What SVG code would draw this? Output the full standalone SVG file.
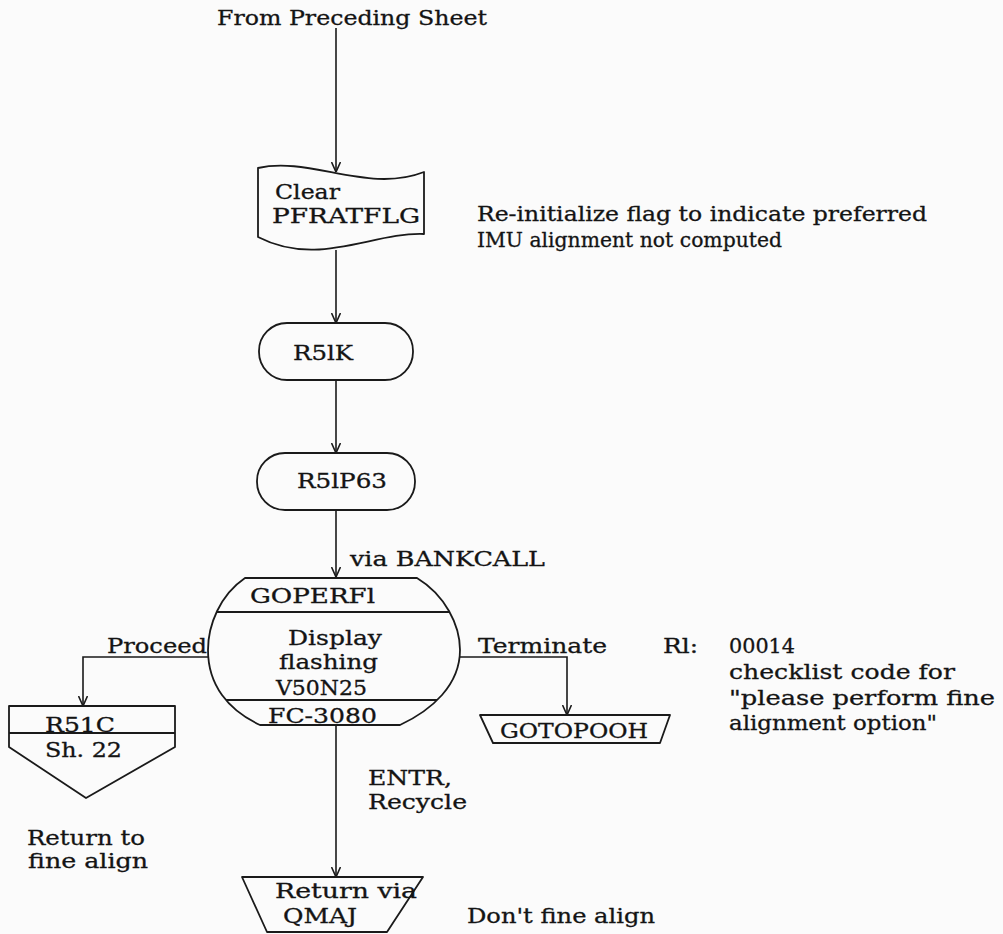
<svg xmlns="http://www.w3.org/2000/svg" width="1003" height="934" viewBox="0 0 1003 934">
  <style>
    .shape { fill: none; stroke: #1a1a1a; stroke-width: 1.8; stroke-linejoin: round; }
    .line { fill: none; stroke: #1a1a1a; stroke-width: 1.6; }
    text { font-family: "DejaVu Serif", "Liberation Serif", serif; font-size: 20px; fill: #141414; stroke: #141414; stroke-width: 0.3; }
  </style>
  <defs>
    <marker id="arrow" viewBox="0 0 10 10" refX="10" refY="5" markerWidth="10" markerHeight="10" markerUnits="userSpaceOnUse" orient="auto">
      <path d="M0,0.5 L10,5 L0,9.5" fill="none" stroke="#1a1a1a" stroke-width="1.6"/>
    </marker>
    <clipPath id="goperf-clip">
      <path d="M245,578 L417,578 C445,595 460,625 460,650 C460,685 432,710 400,725 L260,725 C228,710 208,685 208,650 C208,625 220,595 245,578 Z"/>
    </clipPath>
  </defs>
  <rect width="1003" height="934" fill="#fbfbfb"/>

  <!-- connectors -->
  <g id="connectors">
    <path class="line" d="M336,28 L336,172" marker-end="url(#arrow)"/>
    <path class="line" d="M336,250 L336,323" marker-end="url(#arrow)"/>
    <path class="line" d="M336,380 L336,453" marker-end="url(#arrow)"/>
    <path class="line" d="M336,510 L336,577" marker-end="url(#arrow)"/>
    <path class="line" d="M208,657 L83,657 L83,706" marker-end="url(#arrow)"/>
    <path class="line" d="M460,657 L567,657 L567,715" marker-end="url(#arrow)"/>
    <path class="line" d="M336,725 L336,877" marker-end="url(#arrow)"/>
    <text x="350" y="566" textLength="195" lengthAdjust="spacingAndGlyphs">via BANKCALL</text>
    <text x="107" y="653" textLength="100" lengthAdjust="spacingAndGlyphs">Proceed</text>
    <text x="478" y="653" textLength="129" lengthAdjust="spacingAndGlyphs">Terminate</text>
    <text x="368" y="785" textLength="84" lengthAdjust="spacingAndGlyphs">ENTR,</text>
    <text x="368" y="809" textLength="99" lengthAdjust="spacingAndGlyphs">Recycle</text>
  </g>

  <!-- entry label -->
  <g id="entry">
    <text x="217" y="25" textLength="270" lengthAdjust="spacingAndGlyphs">From Preceding Sheet</text>
  </g>

  <!-- punched-tape box -->
  <g id="clear-pfratflg">
    <path class="shape" d="M258,168 C310,156 368,194 424,172 L424,234 C372,232 318,268 258,237 Z"/>
    <text x="275" y="199" textLength="65" lengthAdjust="spacingAndGlyphs">Clear</text>
    <text x="272" y="223" textLength="148" lengthAdjust="spacingAndGlyphs">PFRATFLG</text>
  </g>
  <g id="note-reinit">
    <text x="477" y="221" textLength="450" lengthAdjust="spacingAndGlyphs">Re-initialize flag to indicate preferred</text>
    <text x="477" y="247" textLength="305" lengthAdjust="spacingAndGlyphs">IMU alignment not computed</text>
  </g>

  <!-- terminals -->
  <g id="r51k">
    <rect class="shape" x="259" y="323" width="154" height="57" rx="28" ry="28"/>
    <text x="293" y="360" textLength="60" lengthAdjust="spacingAndGlyphs">R5lK</text>
  </g>
  <g id="r51p63">
    <rect class="shape" x="257" y="453" width="158" height="57" rx="28" ry="28"/>
    <text x="297" y="488" textLength="90" lengthAdjust="spacingAndGlyphs">R5lP63</text>
  </g>

  <!-- display routine -->
  <g id="goperf1">
    <path class="shape" d="M245,578 L417,578 C445,595 460,625 460,650 C460,685 432,710 400,725 L260,725 C228,710 208,685 208,650 C208,625 220,595 245,578 Z"/>
    <g clip-path="url(#goperf-clip)">
      <line class="shape" x1="200" y1="612" x2="470" y2="612"/>
      <line class="shape" x1="200" y1="700" x2="470" y2="700"/>
    </g>
    <text x="250" y="603" textLength="125" lengthAdjust="spacingAndGlyphs">GOPERFl</text>
    <text x="288" y="645" textLength="94" lengthAdjust="spacingAndGlyphs">Display</text>
    <text x="279" y="669" textLength="99" lengthAdjust="spacingAndGlyphs">flashing</text>
    <text x="276" y="695" textLength="91" lengthAdjust="spacingAndGlyphs">V50N25</text>
    <text x="268" y="723" textLength="109" lengthAdjust="spacingAndGlyphs">FC-3080</text>
  </g>
  <g id="note-r1">
    <text x="663" y="653" textLength="35" lengthAdjust="spacingAndGlyphs">Rl:</text>
    <text x="729" y="653" textLength="66" lengthAdjust="spacingAndGlyphs">00014</text>
    <text x="729" y="679" textLength="226" lengthAdjust="spacingAndGlyphs">checklist code for</text>
    <text x="729" y="705" textLength="266" lengthAdjust="spacingAndGlyphs">"please perform fine</text>
    <text x="729" y="730" textLength="208" lengthAdjust="spacingAndGlyphs">alignment option"</text>
  </g>

  <!-- off-sheet connector -->
  <g id="r51c">
    <path class="shape" d="M9,706 L175,706 L175,747 L86,798 L9,747 Z"/>
    <line class="shape" x1="9" y1="733" x2="175" y2="733"/>
    <text x="45" y="732" textLength="70" lengthAdjust="spacingAndGlyphs">R51C</text>
    <text x="45" y="757" textLength="77" lengthAdjust="spacingAndGlyphs">Sh. 22</text>
  </g>
  <g id="note-return">
    <text x="27" y="845" textLength="118" lengthAdjust="spacingAndGlyphs">Return to</text>
    <text x="28" y="868" textLength="120" lengthAdjust="spacingAndGlyphs">fine align</text>
  </g>

  <!-- exits -->
  <g id="gotopooh">
    <path class="shape" d="M480,715 L670,715 L660,743 L493,743 Z"/>
    <text x="500" y="738" textLength="148" lengthAdjust="spacingAndGlyphs">GOTOPOOH</text>
  </g>
  <g id="qmaj">
    <path class="shape" d="M242,877 L423,877 L387,932 L267,932 Z"/>
    <text x="275" y="898" textLength="142" lengthAdjust="spacingAndGlyphs">Return via</text>
    <text x="283" y="923" textLength="74" lengthAdjust="spacingAndGlyphs">QMAJ</text>
  </g>
  <g id="note-dont">
    <text x="467" y="923" textLength="188" lengthAdjust="spacingAndGlyphs">Don't fine align</text>
  </g>
</svg>
